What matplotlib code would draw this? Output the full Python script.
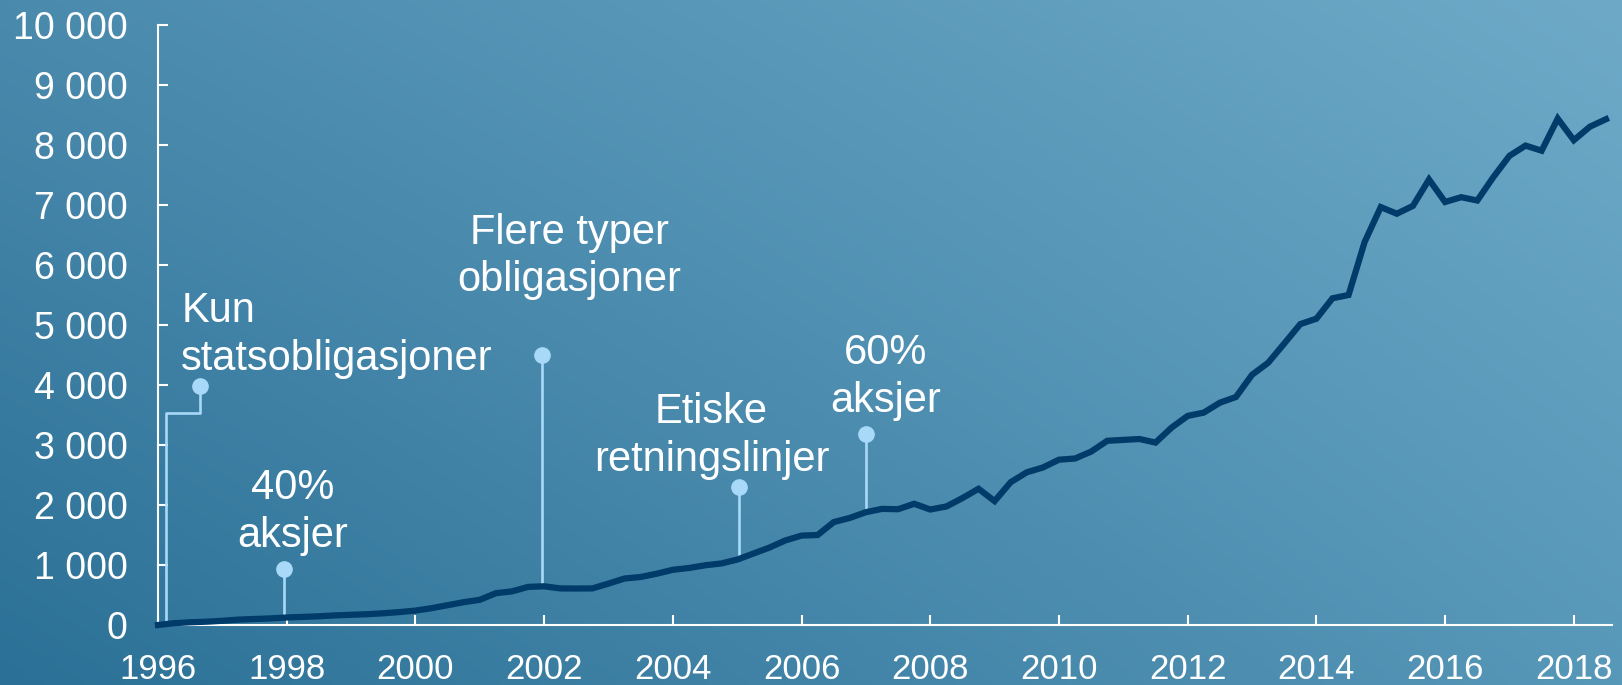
import numpy as np
import matplotlib
matplotlib.use("Agg")
import matplotlib.pyplot as plt
from matplotlib.ticker import FuncFormatter

plt.rcParams["font.family"] = ["Liberation Sans", "DejaVu Sans"]

# quarterly fund value (mrd. kroner)
start_year = 1996
values = [
    0, 30, 45, 55, 70, 90, 100, 110,            # 1996-1997
    125, 135, 145, 160, 170, 180, 195, 215,     # 1998-1999
    240, 280, 330, 380, 420, 530, 560, 635,     # 2000-2001
    645, 610, 608, 610, 690, 775, 800, 855,     # 2002-2003
    920, 950, 995, 1025, 1090, 1190, 1290, 1410,  # 2004-2005
    1490, 1500, 1715, 1785, 1880, 1935, 1930, 2020,  # 2006-2007
    1925, 1975, 2115, 2270, 2065, 2380, 2545, 2625,  # 2008-2009
    2755, 2775, 2890, 3070, 3085, 3100, 3040, 3290,  # 2010-2011
    3485, 3540, 3705, 3800, 4170, 4370, 4690, 5015,  # 2012-2013
    5105, 5445, 5500, 6385, 6965, 6855, 6985, 7425,  # 2014-2015
    7050, 7130, 7075, 7465, 7820, 7990, 7905, 8440,  # 2016-2017
    8080, 8305, 8430,                               # 2018
]
years = start_year + np.arange(len(values)) * 0.25

x_ticks = list(range(1996, 2019, 2))
y_ticks = list(range(0, 10001, 1000))

# milestones
event_labels = ["Kun\nstatsobligasjoner", "40%\naksjer", "Flere typer\nobligasjoner",
                "Etiske\nretningslinjer", "60%\naksjer"]
event_x = [1996.65, 1997.96, 2001.97, 2005.03, 2007.0]
event_dot_y = [3980, 930, 4505, 2305, 3175]
label_x = [1996.36, 1998.10, 2002.39, 2004.60, 2007.31]
label_y = [4257, 1299, 5562, 2570, 3549]
label_ha = ["left", "center", "center", "center", "center"]
# first marker has a bent leader down to the start of the line
elbow_x, elbow_y = 1996.12, 3530

line_col = "#003b69"
mark_col = "#a9d9f8"

fig = plt.figure(figsize=(16.22, 6.85), dpi=100)

# gradient background
bg = fig.add_axes([0, 0, 1, 1], zorder=0)
bl = np.array([0x2b, 0x70, 0x96]) / 255
tl = np.array([0x4a, 0x8a, 0xad]) / 255
br = np.array([0x57, 0x97, 0xb8]) / 255
tr = np.array([0x6e, 0xaa, 0xc8]) / 255
u = np.linspace(0, 1, 400)[None, :, None]
v = np.linspace(1, 0, 200)[:, None, None]
grad = (bl * (1 - u) * (1 - v) + br * u * (1 - v) + tl * (1 - u) * v + tr * u * v)
bg.imshow(grad, aspect="auto", extent=[0, 1, 0, 1], interpolation="bicubic")
bg.axis("off")

ax = fig.add_axes([0.0974, 0.0876, 0.8963, 0.8759], zorder=1)
ax.patch.set_alpha(0)

# leaders and dots
for i in range(len(event_x)):
    ex, dy = event_x[i], event_dot_y[i]
    if i == 0:
        xs = [ex, ex, elbow_x, elbow_x]
        ys = [dy, elbow_y, elbow_y, np.interp(elbow_x, years, values)]
    else:
        xs = [ex, ex]
        ys = [dy, np.interp(ex, years, values)]
    ax.plot(xs, ys, color=mark_col, lw=1.9, zorder=2, solid_capstyle="butt")
    ax.plot(ex, dy, "o", ms=11, color=mark_col, zorder=3)
    ax.text(label_x[i], label_y[i], event_labels[i], ha=label_ha[i], va="baseline",
            fontsize=30, color="white", linespacing=1.25, zorder=4)

ax.plot(years, values, color=line_col, lw=4.5, zorder=5, clip_on=False,
        solid_joinstyle="miter")

ax.set_xlim(1996, 2018.59)
ax.set_ylim(0, 10000)
ax.set_xticks(x_ticks)
ax.set_yticks(y_ticks)
ax.yaxis.set_major_formatter(FuncFormatter(lambda v, p: f"{int(v):,}".replace(",", " ")))

for s in ["top", "right"]:
    ax.spines[s].set_visible(False)
for s in ["left", "bottom"]:
    ax.spines[s].set_color("white")
    ax.spines[s].set_linewidth(1.5)

ax.tick_params(axis="y", direction="in", length=7.5, width=1.5, color="white",
               labelcolor="white", labelsize=27, pad=22)
ax.tick_params(axis="x", direction="in", length=7.5, width=1.5, color="white",
               labelcolor="white", labelsize=25, pad=20)

fig.savefig("out.png", dpi=100)
